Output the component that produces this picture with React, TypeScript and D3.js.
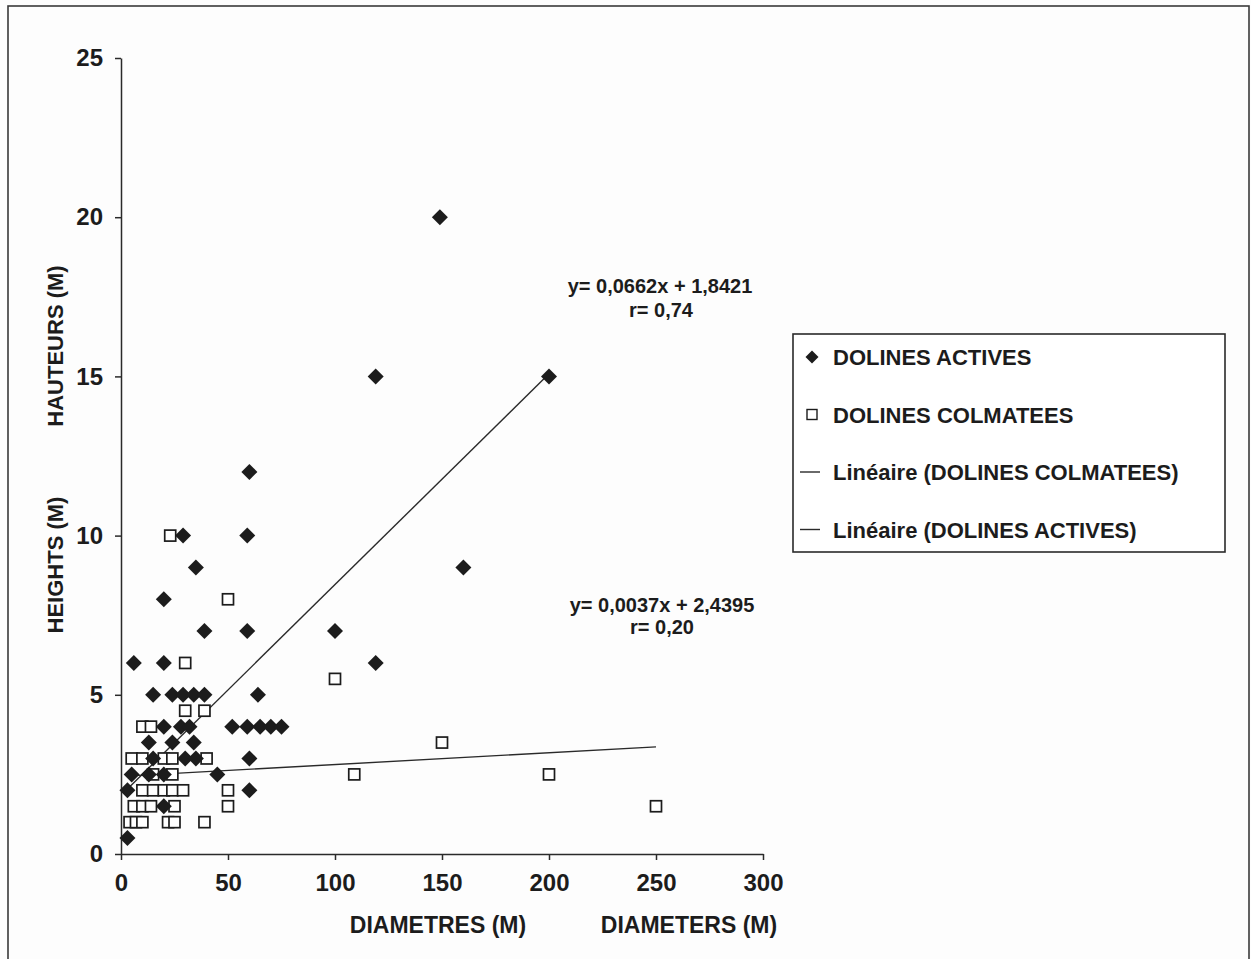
import { useRef, useEffect } from 'react';
import * as d3 from 'd3';

// dolines actives (filled diamonds)
const activeDiam = [3, 3, 5, 13, 20, 45, 20, 60, 15, 30, 35, 60, 13, 24, 34, 20, 28, 32, 52, 59, 65, 70, 75, 15, 24, 29, 34, 39, 64, 6, 20, 39, 59, 20, 35, 29, 59, 60, 100, 119, 160, 119, 200, 149];
const activeHeight = [0.5, 2, 2.5, 2.5, 2.5, 2.5, 1.5, 2, 3, 3, 3, 3, 3.5, 3.5, 3.5, 4, 4, 4, 4, 4, 4, 4, 4, 5, 5, 5, 5, 5, 5, 6, 6, 7, 7, 8, 9, 10, 10, 12, 7, 6, 9, 15, 15, 20];

// dolines colmatees (open squares)
const colmDiam = [4, 7, 10, 22, 25, 39, 6, 10, 14, 25, 50, 250, 10, 15, 20, 24, 29, 50, 15, 24, 109, 200, 5, 10, 20, 24, 40, 150, 10, 14, 30, 39, 100, 30, 50, 23];
const colmHeight = [1, 1, 1, 1, 1, 1, 1.5, 1.5, 1.5, 1.5, 1.5, 1.5, 2, 2, 2, 2, 2, 2, 2.5, 2.5, 2.5, 2.5, 3, 3, 3, 3, 3, 3.5, 4, 4, 4.5, 4.5, 5.5, 6, 8, 10];

// trend lines as printed on the chart
const activeFit = [0.0662, 1.8421];
const colmFit = [0.0037, 2.4395];

const xTicks = [0, 50, 100, 150, 200, 250, 300];
const yTicks = [0, 5, 10, 15, 20, 25];

const legendLabels = ['DOLINES ACTIVES', 'DOLINES COLMATEES', 'Linéaire (DOLINES COLMATEES)', 'Linéaire (DOLINES ACTIVES)'];

const FONT = '"Liberation Sans", Arial, sans-serif';
const INK = '#1c1c1c';

export default function App() {
    const svgRef = useRef<SVGSVGElement | null>(null);
    const w = 1251;
    const h = 959;

    useEffect(() => {
        if (!svgRef.current) return;
        const svg = d3.select(svgRef.current);
        svg.selectAll('*').remove();

        svg.append('rect').attr('width', w).attr('height', h).attr('fill', '#fdfdfd');
        // page frame
        svg.append('rect')
            .attr('x', 8).attr('y', 6).attr('width', 1241).attr('height', 980)
            .attr('fill', 'none').attr('stroke', '#3a3a3a').attr('stroke-width', 1.6);

        const x = d3.scaleLinear().domain([0, 300]).range([121, 763]);
        const y = d3.scaleLinear().domain([0, 25]).range([854, 58]);

        const xAxis = svg.append('g')
            .attr('transform', `translate(0, ${y(0)})`)
            .call(d3.axisBottom(x).tickValues(xTicks).tickSize(6).tickSizeOuter(0).tickPadding(14));
        const yAxis = svg.append('g')
            .attr('transform', `translate(${x(0)}, 0)`)
            .call(d3.axisLeft(y).tickValues(yTicks).tickSize(6).tickSizeOuter(0).tickPadding(12));

        [xAxis, yAxis].forEach(g => {
            g.select('.domain').attr('stroke', '#2a2a2a').attr('stroke-width', 1.5);
            g.selectAll('.tick line').attr('stroke', '#2a2a2a').attr('stroke-width', 1.5);
            g.selectAll('.tick text')
                .attr('fill', INK)
                .style('font-family', FONT)
                .style('font-weight', 'bold')
                .style('font-size', '24px');
        });
        xAxis.selectAll('.tick text').attr('dy', '0.71em');

        // axis titles
        const title = (tx: number, ty: number, txt: string, rot = false) =>
            svg.append('text')
                .attr('transform', rot ? `translate(${tx},${ty}) rotate(-90)` : `translate(${tx},${ty})`)
                .attr('text-anchor', 'middle')
                .attr('fill', INK)
                .style('font-family', FONT)
                .style('font-weight', 'bold')
                .style('font-size', rot ? '22px' : '23px')
                .text(txt);
        title(438, 933, 'DIAMETRES (M)');
        title(689, 933, 'DIAMETERS (M)');
        title(63, 346, 'HAUTEURS (M)', true);
        title(63, 565, 'HEIGHTS (M)', true);

        // trend lines
        const fitLine = (xs: number[], fit: number[]) => {
            const [lo, hi] = d3.extent(xs) as [number, number];
            svg.append('line')
                .attr('x1', x(lo)).attr('y1', y(fit[0] * lo + fit[1]))
                .attr('x2', x(hi)).attr('y2', y(fit[0] * hi + fit[1]))
                .attr('stroke', '#2a2a2a').attr('stroke-width', 1.4);
        };
        fitLine(activeDiam, activeFit);
        fitLine(colmDiam, colmFit);

        // open squares
        const sq = 11;
        svg.append('g').selectAll('rect')
            .data(colmDiam.map((d, i) => [d, colmHeight[i]]))
            .join('rect')
            .attr('x', d => x(d[0]) - sq / 2)
            .attr('y', d => y(d[1]) - sq / 2)
            .attr('width', sq).attr('height', sq)
            .attr('fill', '#fff').attr('stroke', INK).attr('stroke-width', 1.7);

        // filled diamonds
        const diamond = (r: number) => `M0,${-r}L${r},0L0,${r}L${-r},0Z`;
        svg.append('g').selectAll('path')
            .data(activeDiam.map((d, i) => [d, activeHeight[i]]))
            .join('path')
            .attr('transform', d => `translate(${x(d[0])},${y(d[1])})`)
            .attr('d', diamond(8))
            .attr('fill', INK);

        // regression annotations
        const note = (tx: number, ty: number, txt: string) =>
            svg.append('text')
                .attr('x', tx).attr('y', ty)
                .attr('text-anchor', 'middle')
                .attr('fill', INK)
                .style('font-family', FONT)
                .style('font-weight', 'bold')
                .style('font-size', '20px')
                .text(txt);
        note(660, 293, 'y= 0,0662x + 1,8421');
        note(661, 317, 'r= 0,74');
        note(662, 612, 'y= 0,0037x + 2,4395');
        note(662, 634, 'r= 0,20');

        // legend
        const lg = svg.append('g');
        lg.append('rect')
            .attr('x', 793).attr('y', 334).attr('width', 432).attr('height', 218)
            .attr('fill', '#fff').attr('stroke', '#2a2a2a').attr('stroke-width', 1.6);
        const rowY = (i: number) => 357 + i * 57.5;
        lg.append('path')
            .attr('transform', `translate(812,${rowY(0)})`)
            .attr('d', diamond(6.5)).attr('fill', INK);
        lg.append('rect')
            .attr('x', 807).attr('y', rowY(1) - 5).attr('width', 10).attr('height', 10)
            .attr('fill', '#fff').attr('stroke', INK).attr('stroke-width', 1.4);
        [2, 3].forEach(i => {
            lg.append('line')
                .attr('x1', 800).attr('x2', 820).attr('y1', rowY(i)).attr('y2', rowY(i))
                .attr('stroke', '#2a2a2a').attr('stroke-width', 1.4);
        });
        lg.selectAll('text.lab')
            .data(legendLabels)
            .join('text')
            .attr('class', 'lab')
            .attr('x', 833)
            .attr('y', (_, i) => rowY(i) + 8)
            .attr('fill', INK)
            .style('font-family', FONT)
            .style('font-weight', 'bold')
            .style('font-size', '22px')
            .text(d => d);
    }, []);

    return (
        <svg ref={svgRef} width={w} height={h} style={{ position: 'absolute', left: 0, top: 0 }}></svg>
    );
}
